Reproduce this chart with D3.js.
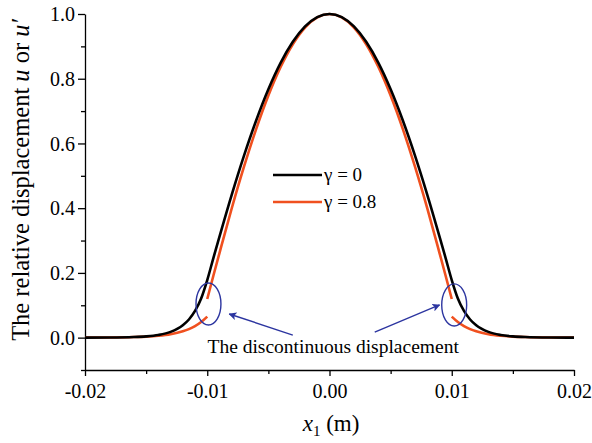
<!DOCTYPE html>
<html>
<head>
<meta charset="utf-8">
<script src="https://cdn.jsdelivr.net/npm/d3@7/dist/d3.min.js"></script>
<style>
  body { margin: 0; background: #fff; }
  svg { display: block; }
</style>
</head>
<body>
<svg id="chart" width="592" height="443"></svg>
<script>
// Mode shape for gamma = 0 (continuous across the interfaces at x1 = ±0.01 m)
const xG0 = [-0.02, -0.018, -0.016, -0.015, -0.014, -0.013, -0.012, -0.0115, -0.011, -0.0105,
             -0.01, -0.0095, -0.009, -0.008, -0.007, -0.006, -0.005, -0.004, -0.003, -0.002, -0.001,
             0, 0.001, 0.002, 0.003, 0.004, 0.005, 0.006, 0.007, 0.008, 0.009, 0.0095, 0.01,
             0.0105, 0.011, 0.0115, 0.012, 0.013, 0.014, 0.015, 0.016, 0.018, 0.02];
const uG0 = [0.0001, 0.0004, 0.0018, 0.0038, 0.0082, 0.0177, 0.0382, 0.0561, 0.0824, 0.1211,
             0.178, 0.2459, 0.3121, 0.4413, 0.5617, 0.671, 0.7674, 0.849, 0.914, 0.9615, 0.9903,
             1.0, 0.9903, 0.9615, 0.914, 0.849, 0.7674, 0.671, 0.5617, 0.4413, 0.3121, 0.2459, 0.178,
             0.1211, 0.0824, 0.0561, 0.0382, 0.0177, 0.0082, 0.0038, 0.0018, 0.0004, 0.0001];

// Mode shape for gamma = 0.8: three pieces, the displacement jumps at x1 = ±0.01 m
const xG08Left = [-0.02, -0.018, -0.016, -0.015, -0.014, -0.013, -0.012, -0.0115, -0.011, -0.0105, -0.01];
const uG08Left = [0.0002, 0.0005, 0.0018, 0.0032, 0.0059, 0.0107, 0.0196, 0.0264, 0.0357, 0.0482, 0.065];
const xG08Mid = [-0.01, -0.0095, -0.009, -0.008, -0.007, -0.006, -0.005, -0.004, -0.003, -0.002, -0.001,
                 0, 0.001, 0.002, 0.003, 0.004, 0.005, 0.006, 0.007, 0.008, 0.009, 0.0095, 0.01];
const uG08Mid = [0.1195, 0.1912, 0.2614, 0.3991, 0.5273, 0.6444, 0.7481, 0.8363, 0.9067, 0.9582, 0.9895,
                 1.0, 0.9895, 0.9582, 0.9067, 0.8363, 0.7481, 0.6444, 0.5273, 0.3991, 0.2614, 0.1912, 0.1195];
const xG08Right = [0.01, 0.0105, 0.011, 0.0115, 0.012, 0.013, 0.014, 0.015, 0.016, 0.018, 0.02];
const uG08Right = [0.065, 0.0482, 0.0357, 0.0264, 0.0196, 0.0107, 0.0059, 0.0032, 0.0018, 0.0005, 0.0002];

// Axis ticks
const xTicks = [-0.02, -0.01, 0, 0.01, 0.02];
const xTickLabels = ["-0.02", "-0.01", "0.00", "0.01", "0.02"];
const xMinorTicks = [-0.015, -0.005, 0.005, 0.015];
const yTicks = [0, 0.2, 0.4, 0.6, 0.8, 1.0];
const yTickLabels = ["0.0", "0.2", "0.4", "0.6", "0.8", "1.0"];
const yMinorTicks = [-0.1, 0.1, 0.3, 0.5, 0.7, 0.9];

// Legend entries
const seriesNames = ["\u03b3 = 0", "\u03b3 = 0.8"];
const seriesColors = ["#000000", "#f0501f"];

// Annotation: ellipses around the jumps and arrows from the caption (data units)
const jumpCenters = [[-0.0099, 0.104], [0.0102, 0.101]];
const jumpRadii = [0.00102, 0.065];
const arrowTails = [[-0.0030, 0.008], [0.0037, 0.017]];
const arrowTips = [[-0.0082, 0.073], [0.0090, 0.101]];
const captionText = "The discontinuous displacement";
const captionAt = [0.0003, -0.047];

const svg = d3.select("#chart");
const x = d3.scaleLinear().domain([-0.02, 0.02]).range([85, 574]);
const y = d3.scaleLinear().domain([-0.1, 1.0]).range([370, 14]);

const blue = "#2c35a0";

// Axes
const gx = svg.append("g").attr("transform", `translate(0,${y(-0.1)})`);
gx.call(d3.axisBottom(x).tickValues(xTicks).tickSize(6).tickSizeOuter(0)
  .tickFormat((d, i) => xTickLabels[i]));
const gxm = svg.append("g").attr("transform", `translate(0,${y(-0.1)})`);
gxm.call(d3.axisBottom(x).tickValues(xMinorTicks).tickSize(4).tickFormat(""));
gxm.select(".domain").remove();

const gy = svg.append("g").attr("transform", `translate(${x(-0.02)},0)`);
gy.call(d3.axisLeft(y).tickValues(yTicks).tickSize(7).tickSizeOuter(0)
  .tickFormat((d, i) => yTickLabels[i]));
const gym = svg.append("g").attr("transform", `translate(${x(-0.02)},0)`);
gym.call(d3.axisLeft(y).tickValues(yMinorTicks).tickSize(4).tickFormat(""));
gym.select(".domain").remove();

svg.selectAll(".domain, .tick line").attr("stroke", "#000").attr("stroke-width", 1.3);
gx.selectAll(".tick text").attr("font-size", 20).attr("dy", "0.95em").attr("fill", "#000");
gy.selectAll(".tick text").attr("font-size", 20).attr("x", -10).attr("dy", "0.34em").attr("fill", "#000");

// Curves
const line = d3.line().x(d => x(d[0])).y(d => y(d[1])).curve(d3.curveMonotoneX);
const zip = (xs, us) => xs.map((v, i) => [v, us[i]]);

[[xG08Left, uG08Left], [xG08Mid, uG08Mid], [xG08Right, uG08Right]].forEach(([xs, us]) => {
  svg.append("path").datum(zip(xs, us)).attr("d", line)
    .attr("fill", "none").attr("stroke", seriesColors[1]).attr("stroke-width", 2.6);
});
svg.append("path").datum(zip(xG0, uG0)).attr("d", line)
  .attr("fill", "none").attr("stroke", seriesColors[0]).attr("stroke-width", 2.6);

// Legend
const legend = svg.append("g");
seriesNames.forEach((name, i) => {
  const ly = 175 + i * 27;
  legend.append("line").attr("x1", 273).attr("x2", 322).attr("y1", ly).attr("y2", ly)
    .attr("stroke", seriesColors[i]).attr("stroke-width", 2.6);
  legend.append("text").attr("x", 324).attr("y", ly + 6).attr("font-size", 19).text(name);
});

// Annotation
svg.append("defs").append("marker")
  .attr("id", "arrowhead").attr("viewBox", "0 0 10 10").attr("refX", 9).attr("refY", 5)
  .attr("markerWidth", 8).attr("markerHeight", 8).attr("markerUnits", "userSpaceOnUse")
  .attr("orient", "auto")
  .append("path").attr("d", "M0,0 L10,5 L0,10 L2.5,5 Z").attr("fill", blue);

jumpCenters.forEach(c => {
  svg.append("ellipse").attr("cx", x(c[0])).attr("cy", y(c[1]))
    .attr("rx", x(jumpRadii[0]) - x(0)).attr("ry", y(0) - y(jumpRadii[1]))
    .attr("fill", "none").attr("stroke", blue).attr("stroke-width", 1.4);
});
arrowTails.forEach((t, i) => {
  svg.append("line").attr("x1", x(t[0])).attr("y1", y(t[1]))
    .attr("x2", x(arrowTips[i][0])).attr("y2", y(arrowTips[i][1]))
    .attr("stroke", blue).attr("stroke-width", 1.4).attr("marker-end", "url(#arrowhead)");
});
svg.append("text").attr("x", x(captionAt[0])).attr("y", y(captionAt[1]))
  .attr("text-anchor", "middle").attr("font-size", 19.5).text(captionText);

// Axis titles
const xt = svg.append("text").attr("x", 331).attr("y", 431).attr("text-anchor", "middle").attr("font-size", 23);
xt.append("tspan").attr("font-style", "italic").text("x");
xt.append("tspan").attr("font-size", 15).attr("dy", 5).text("1");
xt.append("tspan").attr("dy", -5).text(" (m)");

const yt = svg.append("text").attr("transform", "translate(29,180) rotate(-90)")
  .attr("text-anchor", "middle").attr("font-size", 24.5);
yt.append("tspan").text("The relative displacement ");
yt.append("tspan").attr("font-style", "italic").text("u");
yt.append("tspan").text(" or ");
yt.append("tspan").attr("font-style", "italic").text("u\u2032");

// Times-style serif face for every label
svg.selectAll("text").style("font-family", "\"Liberation Serif\"");
</script>
</body>
</html>
